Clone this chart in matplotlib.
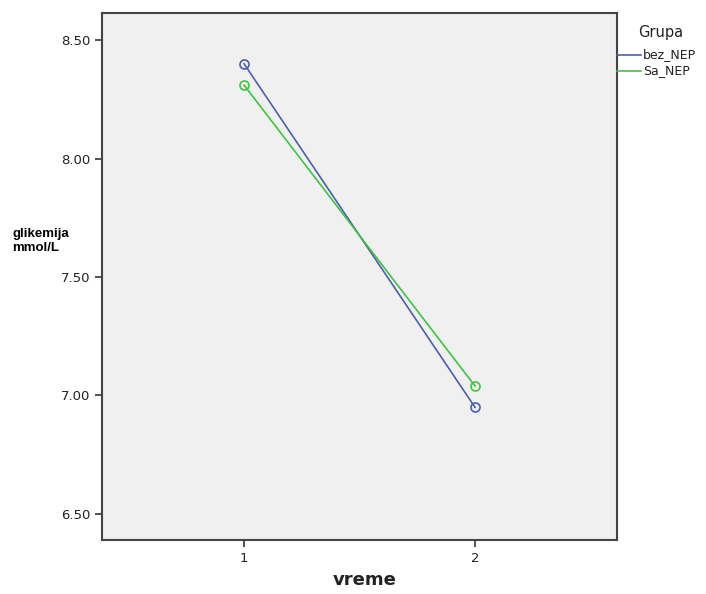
import matplotlib.pyplot as plt
from matplotlib.lines import Line2D

# mean glycemia per group at the two time points
vreme = [1, 2]
bez_nep = [8.40, 6.95]
sa_nep = [8.31, 7.04]
grupe = ["bez_NEP", "Sa_NEP"]
boje = ["#4a5fb0", "#3fc43f"]
yticks = [6.50, 7.00, 7.50, 8.00, 8.50]

fig = plt.figure(figsize=(7.06, 5.94), dpi=100)
ax = fig.add_axes([0.1445, 0.0909, 0.7295, 0.8871])
ax.set_facecolor("#f0f0f0")

for vals, c in zip([bez_nep, sa_nep], boje):
    ax.plot(vreme, vals, color=c, lw=1.2, marker="o", ms=6.5,
            mfc="none", mec=c, mew=1.2)

ax.set_xlim(0.385, 2.615)
ax.set_ylim(6.39, 8.614)
ax.set_xticks(vreme)
ax.set_xticklabels(["1", "2"])
ax.set_yticks(yticks)
ax.set_yticklabels([f"{v:.2f}" for v in yticks])
ax.tick_params(labelsize=9.5, length=5, width=1.2, color="#333333", labelcolor="#222222")
for s in ax.spines.values():
    s.set_linewidth(1.5)
    s.set_color("#444444")

fig.text(365 / 706, 1 - 580 / 594, "vreme", ha="center", va="center",
         fontsize=13, fontweight="bold", color="#222222")
fig.text(12 / 706, 1 - 241 / 594, "glikemija\nmmol/L", ha="left", va="center",
         fontsize=9.5, fontweight="bold", family="Liberation Sans", linespacing=1.3)

# legend drawn to the right of the axes
fig.text(638 / 706, 1 - 32 / 594, "Grupa", ha="left", va="center",
         fontsize=10.5, color="#222222")
for i, (g, c) in enumerate(zip(grupe, boje)):
    y = 1 - (55 + 16 * i) / 594
    fig.add_artist(Line2D([617 / 706, 641 / 706], [y, y], color=c, lw=1.2,
                          transform=fig.transFigure))
    fig.text(643 / 706, y, g, ha="left", va="center", fontsize=9, color="#222222")

fig.savefig("out.png", dpi=100)
